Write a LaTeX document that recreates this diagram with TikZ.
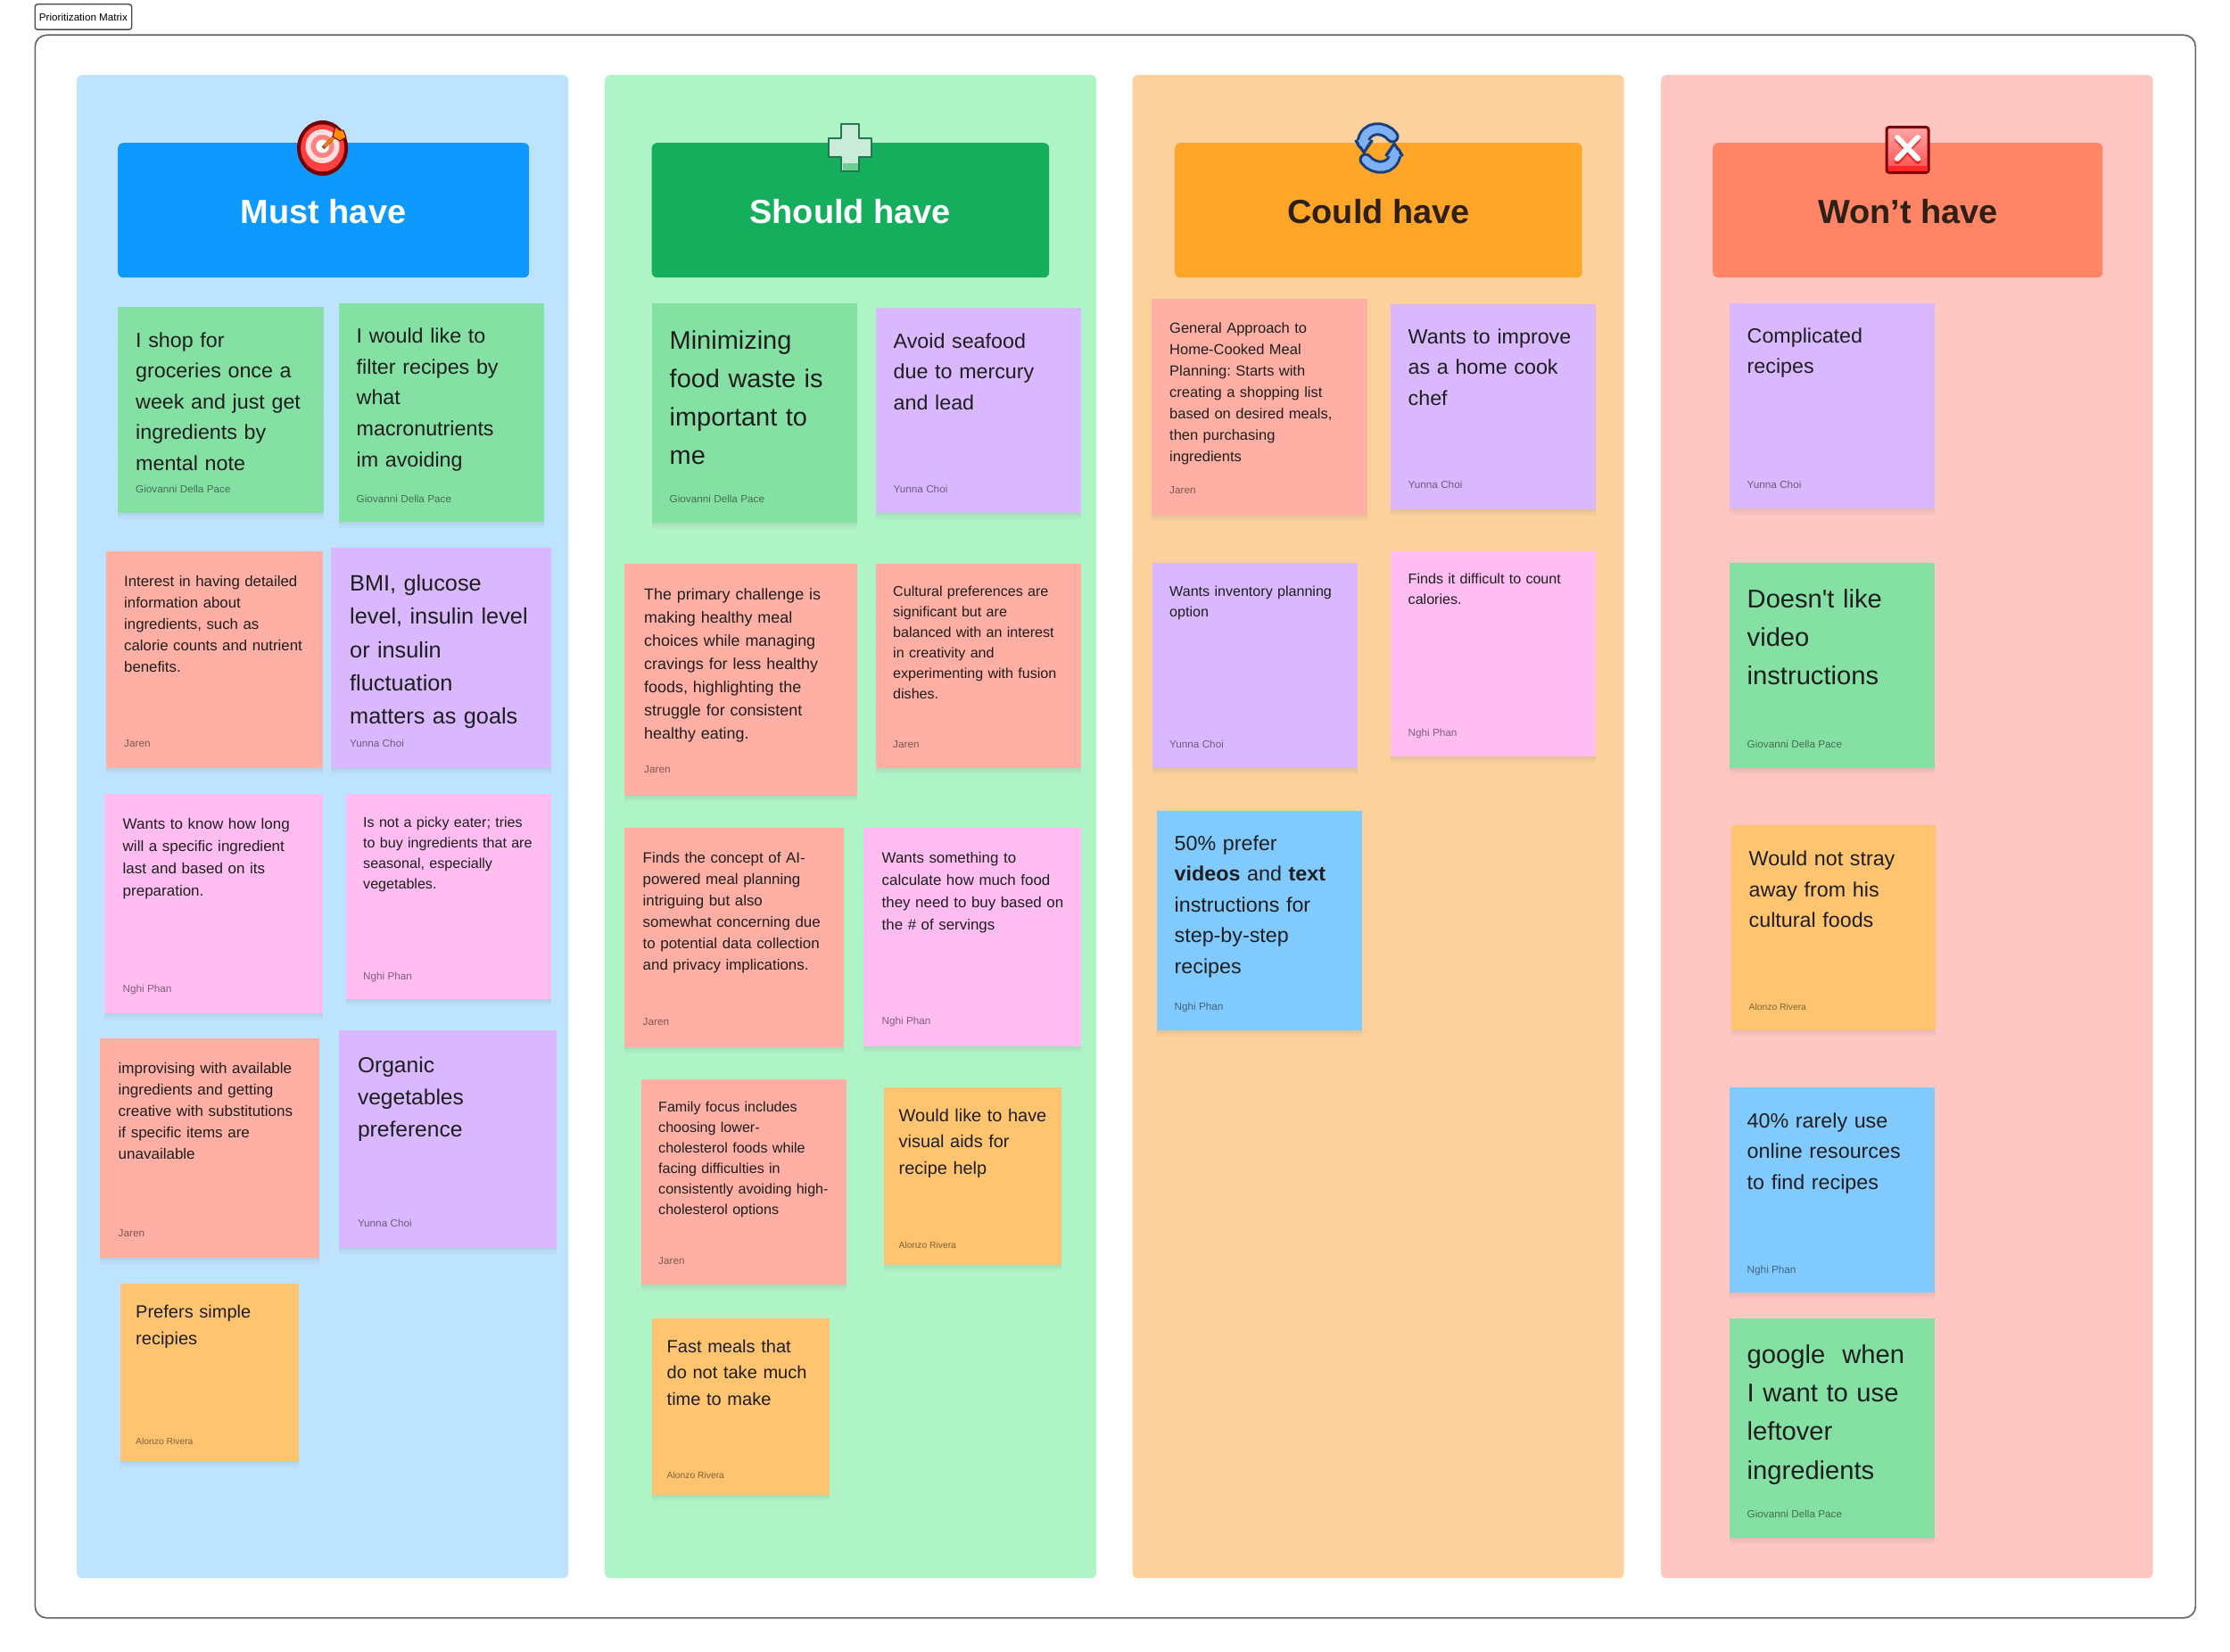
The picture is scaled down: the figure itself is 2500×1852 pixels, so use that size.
\documentclass[tikz,border=0pt]{standalone}
\usepackage{fontspec}
\setmainfont[FakeStretch=1.012]{Liberation Sans}
\frenchspacing
\usetikzlibrary{shadows}
\definecolor{panelblue}{HTML}{BDE3FF}
\definecolor{panelgreen}{HTML}{AFF4C6}
\definecolor{panelorange}{HTML}{FCD19C}
\definecolor{panelred}{HTML}{FFC7C2}
\definecolor{headblue}{HTML}{0D99FF}
\definecolor{headgreen}{HTML}{14AE5C}
\definecolor{headorange}{HTML}{FFA629}
\definecolor{headred}{HTML}{FF8566}
\definecolor{notegreen}{HTML}{85E0A3}
\definecolor{notesalmon}{HTML}{FFAFA3}
\definecolor{notepurple}{HTML}{D9B8FF}
\definecolor{notepink}{HTML}{FFBDF2}
\definecolor{noteorange}{HTML}{FFC470}
\definecolor{noteblue}{HTML}{80CAFF}
\definecolor{inkdark}{HTML}{1E1E1E}
\definecolor{inkbrown}{HTML}{2E2015}
\definecolor{cycledark}{HTML}{1B3F7A}
\definecolor{cyclelight}{HTML}{7FB0F5}
\definecolor{plusdark}{HTML}{1E7A4B}
\definecolor{pluslight}{HTML}{C9EBD8}
\definecolor{plusband}{HTML}{6CCF95}
\begin{document}
\begin{tikzpicture}[
  x=1pt, y=-1pt,
  panel/.style={anchor=north west, inner sep=0pt, rounded corners=6pt},
  header/.style={panel},
  headtext/.style={anchor=base, font=\fontsize{37.5}{44}\selectfont\bfseries},
  softshadow/.style={drop shadow={shadow xshift=0pt, shadow yshift=-#1pt, opacity=0.06}},
  card/.style={anchor=north west, inner sep=0pt, softshadow=2, softshadow=4, softshadow=7},
  fs/.style 2 args={font=\fontsize{#1}{#2}\selectfont},
  notetext/.style={anchor=base west, inner sep=0pt, text width=300, align=left, text=inkdark},
  noteby/.style={anchor=base west, inner sep=0pt, text=black, text opacity=0.5},
  byreg/.style={font=\fontsize{11.6}{14}\selectfont},
  bysmall/.style={font=\fontsize{10.2}{12}\selectfont}
]
\useasboundingbox (0,0) rectangle (2500,1852);
\node[draw=black!62, line width=1.6pt, rounded corners=13pt, anchor=north west, inner sep=0pt, minimum width=2422, minimum height=1774.5] (frame) at (38.5,38.5) {};
\node[draw=black!70, line width=1.4pt, rounded corners=3pt, anchor=north west, inner sep=0pt, minimum width=108.5, minimum height=28.5, font=\fontsize{11.5}{13}\selectfont] (tag) at (38.5,4) {Prioritization Matrix};

\node[panel, fill=panelblue, minimum width=551, minimum height=1685] (mustpanel) at (86,84) {};
\node[panel, fill=panelgreen, minimum width=551, minimum height=1685] (shouldpanel) at (678,84) {};
\node[panel, fill=panelorange, minimum width=551, minimum height=1685] (couldpanel) at (1269.5,84) {};
\node[panel, fill=panelred, minimum width=551.5, minimum height=1685] (wontpanel) at (1862,84) {};

\node[header, fill=headblue, minimum width=461, minimum height=151] (musthead) at (132,160) {};
\node[header, fill=headgreen, minimum width=445.5, minimum height=151] (shouldhead) at (730.5,160) {};
\node[header, fill=headorange, minimum width=456.5, minimum height=151] (couldhead) at (1317,160) {};
\node[header, fill=headred, minimum width=437, minimum height=151] (wonthead) at (1920,160) {};
\node[headtext, text=white] (musttitle) at (362.5,250) {Must have};
\node[headtext, text=white] (shouldtitle) at (953.2,250) {Should have};
\node[headtext, text=inkbrown] (couldtitle) at (1545.5,250) {Could have};
\node[headtext, text=inkbrown] (wonttitle) at (2139,250) {Won’t have};

\fill[red!45!black] (361.6,166) ellipse (28.5 and 31);
\fill[red!75!white] (361.6,166) ellipse (24.5 and 26.5);
\fill[red!12!white] (361.6,164) circle (19);
\fill[red!50!white] (361.6,164) circle (13);
\fill[white] (361.6,164) circle (7.5);
\draw[line width=4pt, brown!70!black] (362,166) -- (378,150);
\draw[line width=2.5pt, orange] (364,164) -- (378,150);
\fill[orange!90!yellow, draw=red!45!black, line width=1pt, line join=round] (373,153) -- (376,142) -- (381,146) -- (385,146) -- (388,154) -- (381,158) -- cycle;

\draw[draw=plusdark, line width=2.5pt, fill=pluslight, line join=round] (943,139) -- (963,139) -- (963,155) -- (977,155) -- (977,176) -- (963,176) -- (963,192) -- (943,192) -- (943,176) -- (929,176) -- (929,155) -- (943,155) -- cycle;
\fill[plusband] (944.5,183) rectangle (961.5,190.5);

\foreach \rot in {0,180} {
\begin{scope}[rotate around={\rot:(1546,166)}]
\draw[line width=15pt, cycledark, line cap=round] (1561,153) .. controls (1552,141) and (1530,141) .. (1528,160);
\fill[cycledark, line join=round, draw=cycledark, line width=3pt] (1520,158) -- (1538,158) -- (1529,171) -- cycle;
\draw[line width=9pt, cyclelight, line cap=round] (1561,153) .. controls (1552,141) and (1530,141) .. (1528,160);
\fill[cyclelight] (1522,157) -- (1536,157) -- (1529,168) -- cycle;
\end{scope}
}

\draw[draw=red!50!black, line width=3pt, top color=red!35!white, bottom color=red!70!white, rounded corners=3pt] (2115,142.5) rectangle (2162,193.5);
\fill[red!85!white] (2116.5,186) rectangle (2160.5,192);
\draw[red!90!white, line width=6pt, line cap=round] (2127,156) -- (2150,181) (2150,156) -- (2127,181);
\draw[white, line width=6pt, line cap=round] (2127,154) -- (2150,178) (2150,154) -- (2127,178);

\node[card, fill=notegreen, minimum width=231, minimum height=231] (m1) at (132,344) {};
\node[notetext, fs={23}{34.6}] (m1t) at ([shift={(20,45)}]m1.north west) {I shop for\\groceries once a\\week and just get\\ingredients by\\mental note};
\node[noteby, byreg] (m1a) at ([shift={(20,-23)}]m1.south west) {Giovanni Della Pace};
\node[card, fill=notegreen, minimum width=230, minimum height=245] (m2) at (380,340) {};
\node[notetext, fs={23}{34.6}] (m2t) at ([shift={(19.5,44.6)}]m2.north west) {I would like to\\filter recipes by\\what\\macronutrients\\im avoiding};
\node[noteby, byreg] (m2a) at ([shift={(19.5,-22)}]m2.south west) {Giovanni Della Pace};
\node[card, fill=notesalmon, minimum width=243, minimum height=243] (m3) at (119,618) {};
\node[notetext, fs={16.6}{24}] (m3t) at ([shift={(20,39)}]m3.north west) {Interest in having detailed\\information about\\ingredients, such as\\calorie counts and nutrient\\benefits.};
\node[noteby, byreg] (m3a) at ([shift={(20,-23.5)}]m3.south west) {Jaren};
\node[card, fill=notepurple, minimum width=247, minimum height=247] (m4) at (371,614) {};
\node[notetext, fs={25}{37.3}] (m4t) at ([shift={(21,48.5)}]m4.north west) {BMI, glucose\\level, insulin level\\or insulin\\fluctuation\\matters as goals};
\node[noteby, byreg] (m4a) at ([shift={(21,-24)}]m4.south west) {Yunna Choi};
\node[card, fill=notepink, minimum width=245, minimum height=246] (m5) at (117,890) {};
\node[notetext, fs={16.8}{25}] (m5t) at ([shift={(20.5,39)}]m5.north west) {Wants to know how long\\will a specific ingredient\\last and based on its\\preparation.};
\node[noteby, byreg] (m5a) at ([shift={(20.5,-24)}]m5.south west) {Nghi Phan};
\node[card, fill=notepink, minimum width=230, minimum height=230] (m6) at (388,890) {};
\node[notetext, fs={15.9}{23}] (m6t) at ([shift={(19,37.5)}]m6.north west) {Is not a picky eater; tries\\to buy ingredients that are\\seasonal, especially\\vegetables.};
\node[noteby, byreg] (m6a) at ([shift={(19,-22)}]m6.south west) {Nghi Phan};
\node[card, fill=notesalmon, minimum width=245.5, minimum height=246] (m7) at (112,1164) {};
\node[notetext, fs={16.8}{24}] (m7t) at ([shift={(20.5,39)}]m7.north west) {improvising with available\\ingredients and getting\\creative with substitutions\\if specific items are\\unavailable};
\node[noteby, byreg] (m7a) at ([shift={(20.5,-24)}]m7.south west) {Jaren};
\node[card, fill=notepurple, minimum width=244, minimum height=244] (m8) at (380,1155) {};
\node[notetext, fs={24.3}{36.4}] (m8t) at ([shift={(20.8,47)}]m8.north west) {Organic\\vegetables\\preference};
\node[noteby, byreg] (m8a) at ([shift={(20.8,-24)}]m8.south west) {Yunna Choi};
\node[card, fill=noteorange, minimum width=199.5, minimum height=199] (m9) at (135,1439) {};
\node[notetext, fs={19.8}{29.7}] (m9t) at ([shift={(17,38.5)}]m9.north west) {Prefers simple\\recipies};
\node[noteby, bysmall] (m9a) at ([shift={(17,-19.4)}]m9.south west) {Alonzo Rivera};

\node[card, fill=notegreen, minimum width=230, minimum height=246] (s1) at (731,340) {};
\node[notetext, fs={28.6}{43.2}] (s1t) at ([shift={(19.5,51)}]s1.north west) {Minimizing\\food waste is\\important to\\me};
\node[noteby, byreg] (s1a) at ([shift={(19.5,-23)}]s1.south west) {Giovanni Della Pace};
\node[card, fill=notepurple, minimum width=230, minimum height=230] (s2) at (982,345) {};
\node[notetext, fs={23}{34.6}] (s2t) at ([shift={(19.5,45)}]s2.north west) {Avoid seafood\\due to mercury\\and lead};
\node[noteby, byreg] (s2a) at ([shift={(19.5,-23)}]s2.south west) {Yunna Choi};
\node[card, fill=notesalmon, minimum width=261, minimum height=260.5] (s3) at (700,631.5) {};
\node[notetext, fs={17.7}{26}] (s3t) at ([shift={(22,41)}]s3.north west) {The primary challenge is\\making healthy meal\\choices while managing\\cravings for less healthy\\foods, highlighting the\\struggle for consistent\\healthy eating.};
\node[noteby, byreg] (s3a) at ([shift={(22,-26)}]s3.south west) {Jaren};
\node[card, fill=notesalmon, minimum width=230, minimum height=229.5] (s4) at (982,631.5) {};
\node[notetext, fs={15.9}{23}] (s4t) at ([shift={(19,36.5)}]s4.north west) {Cultural preferences are\\significant but are\\balanced with an interest\\in creativity and\\experimenting with fusion\\dishes.};
\node[noteby, byreg] (s4a) at ([shift={(19,-22.5)}]s4.south west) {Jaren};
\node[card, fill=notesalmon, minimum width=246, minimum height=246] (s5) at (700,928) {};
\node[notetext, fs={16.7}{24}] (s5t) at ([shift={(20.5,39)}]s5.north west) {Finds the concept of AI-\\powered meal planning\\intriguing but also\\somewhat concerning due\\to potential data collection\\and privacy implications.};
\node[noteby, byreg] (s5a) at ([shift={(20.5,-25)}]s5.south west) {Jaren};
\node[card, fill=notepink, minimum width=244, minimum height=245] (s6) at (968,928) {};
\node[notetext, fs={16.7}{25}] (s6t) at ([shift={(20.5,39)}]s6.north west) {Wants something to\\calculate how much food\\they need to buy based on\\the \# of servings};
\node[noteby, byreg] (s6a) at ([shift={(20.5,-24.5)}]s6.south west) {Nghi Phan};
\node[card, fill=notesalmon, minimum width=230, minimum height=230] (s7) at (719,1210) {};
\node[notetext, fs={15.9}{23}] (s7t) at ([shift={(19,36.8)}]s7.north west) {Family focus includes\\choosing lower-\\cholesterol foods while\\facing difficulties in\\consistently avoiding high-\\cholesterol options};
\node[noteby, byreg] (s7a) at ([shift={(19,-22.5)}]s7.south west) {Jaren};
\node[card, fill=noteorange, minimum width=199, minimum height=199] (s8) at (991,1219) {};
\node[notetext, fs={19.7}{29.8}] (s8t) at ([shift={(16.5,38)}]s8.north west) {Would like to have\\visual aids for\\recipe help};
\node[noteby, bysmall] (s8a) at ([shift={(16.5,-19)}]s8.south west) {Alonzo Rivera};
\node[card, fill=noteorange, minimum width=199, minimum height=198] (s9) at (731,1478) {};
\node[notetext, fs={19.8}{29.7}] (s9t) at ([shift={(16.5,38)}]s9.north west) {Fast meals that\\do not take much\\time to make};
\node[noteby, bysmall] (s9a) at ([shift={(16.5,-19)}]s9.south west) {Alonzo Rivera};

\node[card, fill=notesalmon, minimum width=241.5, minimum height=242] (c1) at (1291,335) {};
\node[notetext, fs={16.3}{24}] (c1t) at ([shift={(20,38.6)}]c1.north west) {General Approach to\\Home-Cooked Meal\\Planning: Starts with\\creating a shopping list\\based on desired meals,\\then purchasing\\ingredients};
\node[noteby, byreg] (c1a) at ([shift={(20,-24)}]c1.south west) {Jaren};
\node[card, fill=notepurple, minimum width=230, minimum height=230] (c2) at (1559,341) {};
\node[notetext, fs={23}{34.6}] (c2t) at ([shift={(19.5,44)}]c2.north west) {Wants to improve\\as a home cook\\chef};
\node[noteby, byreg] (c2a) at ([shift={(19.5,-23.5)}]c2.south west) {Yunna Choi};
\node[card, fill=notepurple, minimum width=230, minimum height=230] (c3) at (1292,631) {};
\node[notetext, fs={15.9}{23.2}] (c3t) at ([shift={(19,37)}]c3.north west) {Wants inventory planning\\option};
\node[noteby, byreg] (c3a) at ([shift={(19,-23)}]c3.south west) {Yunna Choi};
\node[card, fill=notepink, minimum width=230, minimum height=230.5] (c4) at (1559,617.5) {};
\node[notetext, fs={15.9}{23.2}] (c4t) at ([shift={(19.5,37)}]c4.north west) {Finds it difficult to count\\calories.};
\node[noteby, byreg] (c4a) at ([shift={(19.5,-23)}]c4.south west) {Nghi Phan};
\node[card, fill=noteblue, minimum width=230, minimum height=246] (c5) at (1297,909) {};
\node[notetext, fs={23}{34.6}] (c5t) at ([shift={(19.5,44)}]c5.north west) {50\% prefer\\\textbf{videos} and \textbf{text}\\instructions for\\step-by-step\\recipes};
\node[noteby, byreg] (c5a) at ([shift={(19.5,-23)}]c5.south west) {Nghi Phan};

\node[card, fill=notepurple, minimum width=230, minimum height=230] (w1) at (1939,340) {};
\node[notetext, fs={23}{34.6}] (w1t) at ([shift={(19.5,44)}]w1.north west) {Complicated\\recipes};
\node[noteby, byreg] (w1a) at ([shift={(19.5,-23)}]w1.south west) {Yunna Choi};
\node[card, fill=notegreen, minimum width=230, minimum height=230] (w2) at (1939,631) {};
\node[notetext, fs={28.8}{43.2}] (w2t) at ([shift={(19.5,50.5)}]w2.north west) {Doesn\textquotesingle t like\\video\\instructions};
\node[noteby, byreg] (w2a) at ([shift={(19.5,-22.6)}]w2.south west) {Giovanni Della Pace};
\node[card, fill=noteorange, minimum width=229, minimum height=230] (w3) at (1941,925) {};
\node[notetext, fs={23}{34.6}] (w3t) at ([shift={(19.5,45.5)}]w3.north west) {Would not stray\\away from his\\cultural foods};
\node[noteby, bysmall] (w3a) at ([shift={(19.5,-23)}]w3.south west) {Alonzo Rivera};
\node[card, fill=noteblue, minimum width=230, minimum height=230] (w4) at (1939,1219) {};
\node[notetext, fs={23}{34.6}] (w4t) at ([shift={(19.5,45)}]w4.north west) {40\% rarely use\\online resources\\to find recipes};
\node[noteby, byreg] (w4a) at ([shift={(19.5,-22.4)}]w4.south west) {Nghi Phan};
\node[card, fill=notegreen, minimum width=230, minimum height=246] (w5) at (1939,1478) {};
\node[notetext, fs={28.8}{43.2}] (w5t) at ([shift={(19.5,50.5)}]w5.north west) {google\ \ when\\I want to use\\leftover\\ingredients};
\node[noteby, byreg] (w5a) at ([shift={(19.5,-23)}]w5.south west) {Giovanni Della Pace};
\end{tikzpicture}
\end{document}
